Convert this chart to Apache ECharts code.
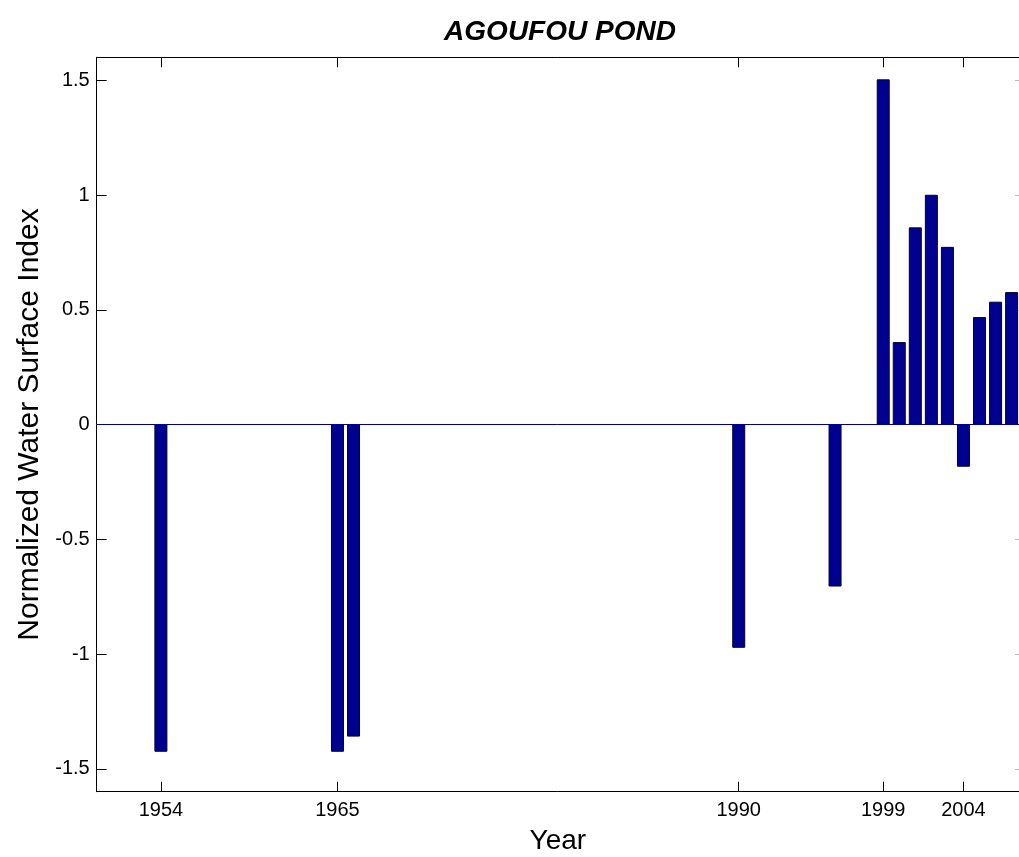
<!DOCTYPE html>
<html>
<head>
<meta charset="utf-8">
<script src="https://cdn.jsdelivr.net/npm/echarts@6/dist/echarts.min.js"></script>
<style>
html,body{margin:0;padding:0;background:#fff;}
#chart{width:1019px;height:857px;}
</style>
</head>
<body>
<div id="chart"></div>
<script>
const titleText = 'AGOUFOU POND';
const years = [1954, 1965, 1966, 1990, 1996, 1999, 2000, 2001, 2002, 2003, 2004, 2005, 2006, 2007];
const values = [-1.426, -1.426, -1.36, -0.973, -0.706, 1.504, 0.359, 0.859, 1.001, 0.774, -0.184, 0.468, 0.535, 0.577];
const xTickYears = [1954, 1965, 1990, 1999, 2004];
const yTicks = [-1.5, -1, -0.5, 0, 0.5, 1, 1.5];

const chart = echarts.init(document.getElementById('chart'));
const font = 'Arial, "Liberation Sans", sans-serif';
const axisLineStyle = {color: '#000', width: 1};
const xMin = 1950, xMax = 2007.46;

const option = {
  animation: false,
  backgroundColor: '#fff',
  title: {
    text: titleText,
    left: 555, top: 13, textAlign: 'center',
    textStyle: {fontFamily: font, fontSize: 28, fontWeight: 'bold', fontStyle: 'italic', color: '#000'}
  },
  grid: {left: 96.7, top: 57.3, right: 0, bottom: 65.3, containLabel: false, outerBoundsMode: 'none'},
  xAxis: [{
    type: 'value', min: xMin, max: xMax, position: 'bottom',
    name: 'Year', nameLocation: 'middle', nameGap: 36,
    nameTextStyle: {fontFamily: font, fontSize: 28, color: '#000'},
    axisLine: {show: true, onZero: false, lineStyle: axisLineStyle},
    axisTick: {show: true, inside: true, length: 10, customValues: xTickYears, lineStyle: axisLineStyle},
    axisLabel: {customValues: xTickYears, fontFamily: font, fontSize: 20, color: '#000', margin: 9, formatter: v => String(v)},
    splitLine: {show: false}
  }, {
    type: 'value', min: xMin, max: xMax, position: 'top',
    axisLine: {show: true, onZero: false, lineStyle: axisLineStyle},
    axisTick: {show: true, inside: true, length: 10, customValues: xTickYears, lineStyle: axisLineStyle},
    axisLabel: {show: false},
    splitLine: {show: false}
  }],
  yAxis: [{
    type: 'value', min: -1.6, max: 1.6, position: 'left',
    name: 'Normalized Water Surface Index', nameLocation: 'middle', nameGap: 47,
    nameTextStyle: {fontFamily: font, fontSize: 30, color: '#000'},
    axisLine: {show: true, onZero: false, lineStyle: axisLineStyle},
    axisTick: {show: true, inside: true, length: 10, customValues: yTicks, lineStyle: axisLineStyle},
    axisLabel: {customValues: yTicks, fontFamily: font, fontSize: 20, color: '#000', margin: 7, formatter: v => String(v)},
    splitLine: {show: false}
  }, {
    type: 'value', min: -1.6, max: 1.6, position: 'right',
    axisLine: {show: false},
    axisTick: {show: true, inside: true, length: 4, customValues: yTicks, lineStyle: {color: '#bbb', width: 1}},
    axisLabel: {show: false},
    splitLine: {show: false}
  }],
  series: [{
    type: 'bar',
    xAxisIndex: 0, yAxisIndex: 0,
    data: years.map((y, i) => [y, values[i]]),
    barWidth: 13,
    itemStyle: {color: '#00008F', borderColor: '#000030', borderWidth: 1},
    markLine: {
      silent: true, symbol: 'none', label: {show: false},
      lineStyle: {color: '#00008F', width: 1, type: 'solid'},
      data: [{yAxis: 0}]
    },
    z: 3
  }]
};
chart.setOption(option);
</script>
</body>
</html>
